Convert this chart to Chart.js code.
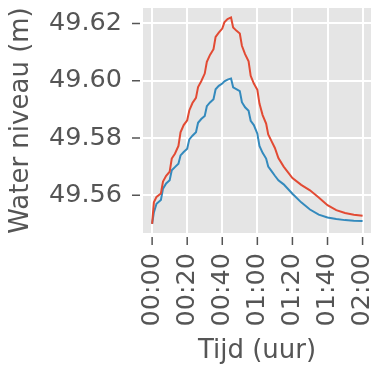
<!DOCTYPE html>
<html>
<head>
<meta charset="utf-8">
<script src="https://cdn.jsdelivr.net/npm/chart.js@4.4.0/dist/chart.umd.min.js"></script>
<style>
  html, body { margin: 0; padding: 0; background: #fff; overflow: hidden; }
  #wrap { width: 371px; height: 367px; }
</style>
</head>
<body>
<div id="wrap"><canvas id="chart" width="371" height="367"></canvas></div>
<script>
// tijd in minuten vanaf 00:00
const minutes = [0, 1, 2.5, 5, 6.2, 8, 10, 11.2, 13, 15, 16.2, 18, 20, 21.2, 23, 25, 26.2, 28, 30,
  31.2, 33, 35, 36.2, 38, 40, 41.2, 43, 45, 46.2, 48, 50, 51.2, 53, 55, 56.2, 58, 60, 61.2, 63, 65,
  66.2, 68, 70, 72, 75, 80, 85, 90, 95, 100, 105, 110, 115, 120];

const levelRed = [49.550, 49.5575, 49.5594, 49.5606, 49.5648, 49.5668, 49.5682, 49.5728, 49.5745, 49.5772,
  49.5820, 49.5845, 49.5862, 49.5896, 49.5922, 49.5940, 49.5978, 49.5998, 49.6025,
  49.6066, 49.6090, 49.6110, 49.6153, 49.6168, 49.6182, 49.6204, 49.6215, 49.6221,
  49.6186, 49.6175, 49.6165, 49.6122, 49.6093, 49.6068, 49.6017, 49.5990, 49.5968, 49.5920, 49.5880, 49.5850,
  49.5812, 49.5790, 49.5765, 49.5730, 49.5700, 49.5660, 49.5636, 49.5617, 49.5592, 49.5565, 49.5548, 49.5538, 49.5532, 49.5528];

const levelBlue = [49.550, 49.5540, 49.5570, 49.5583, 49.5623, 49.5641, 49.5652, 49.5687, 49.5698, 49.5710,
  49.5739, 49.5751, 49.5762, 49.5795, 49.5808, 49.5820, 49.5853, 49.5866, 49.5877,
  49.5911, 49.5924, 49.5935, 49.5970, 49.5982, 49.5990, 49.5998, 49.6004, 49.6008,
  49.5977, 49.5971, 49.5964, 49.5925, 49.5907, 49.5895, 49.5860, 49.5845, 49.5815, 49.5772, 49.5748, 49.5728,
  49.5700, 49.5685, 49.5668, 49.5652, 49.5638, 49.5605, 49.5575, 49.5550, 49.5532, 49.5522, 49.5517, 49.5513, 49.5511, 49.5510];

const xTicks = [0, 20, 40, 60, 80, 100, 120];
const yTicks = [49.56, 49.58, 49.60, 49.62];

const FONT = 'DejaVu Sans';
const TEXT = '#555555';

function fmtTime(m) {
  const h = Math.floor(m / 60);
  const mm = Math.round(m % 60);
  return String(h).padStart(2, '0') + ':' + String(mm).padStart(2, '0');
}

const toPoints = arr => minutes.map((t, i) => ({ x: t, y: arr[i] }));

// geen extra marge rond de assen
function noPad(s) {
  s.paddingLeft = 0; s.paddingRight = 0; s.paddingTop = 0; s.paddingBottom = 0;
}

// grijze achtergrond + korte tickstreepjes buiten het plotvlak
const ggplotBits = {
  id: 'ggplotBits',
  beforeDraw(chart) {
    const { ctx, chartArea: a } = chart;
    ctx.save();
    ctx.fillStyle = '#E5E5E5';
    ctx.fillRect(a.left, a.top, a.right - a.left, a.bottom - a.top);
    ctx.restore();
  },
  afterDraw(chart) {
    const { ctx, chartArea: a, scales } = chart;
    ctx.save();
    ctx.strokeStyle = '#555555';
    ctx.lineWidth = 1.5;
    ctx.beginPath();
    yTicks.forEach(v => {
      const y = scales.y.getPixelForValue(v);
      ctx.moveTo(a.left - 11, y);
      ctx.lineTo(a.left - 3, y);
    });
    xTicks.forEach(v => {
      const x = scales.x.getPixelForValue(v);
      ctx.moveTo(x, a.bottom + 4);
      ctx.lineTo(x, a.bottom + 12);
    });
    ctx.stroke();
    ctx.restore();
  }
};

new Chart(document.getElementById('chart'), {
  type: 'line',
  data: {
    datasets: [
      { label: 'rood', data: toPoints(levelRed), borderColor: '#E24A33', borderWidth: 2, pointRadius: 0, tension: 0 },
      { label: 'blauw', data: toPoints(levelBlue), borderColor: '#348ABD', borderWidth: 2, pointRadius: 0, tension: 0 }
    ]
  },
  options: {
    responsive: false,
    animation: false,
    layout: { padding: { left: 0, right: 0, top: 8, bottom: 0 }, autoPadding: false },
    plugins: { legend: { display: false }, tooltip: { enabled: false } },
    scales: {
      x: {
        type: 'linear',
        min: -5.2,
        max: 124.8,
        afterBuildTicks: s => { s.ticks = xTicks.map(v => ({ value: v })); },
        afterFit: s => { s.height = 134; noPad(s); },
        grid: { color: '#ffffff', lineWidth: 2, drawTicks: false },
        border: { display: false },
        ticks: {
          minRotation: 90, maxRotation: 90, padding: 20, color: TEXT,
          font: { family: FONT, size: 25.5 },
          callback: v => fmtTime(v)
        },
        title: { display: true, text: 'Tijd (uur)', color: TEXT, font: { family: FONT, size: 26 }, padding: { top: 0, bottom: 0.5 } }
      },
      y: {
        min: 49.5468,
        max: 49.6254,
        afterBuildTicks: s => { s.ticks = yTicks.map(v => ({ value: v })); },
        afterFit: s => { s.width = 143; noPad(s); },
        grid: { color: '#ffffff', lineWidth: 2, drawTicks: false },
        border: { display: false },
        ticks: {
          padding: 21, color: TEXT,
          font: { family: FONT, size: 25.5 },
          callback: v => v.toFixed(2)
        },
        title: { display: true, text: 'Water niveau (m)', color: TEXT, font: { family: FONT, size: 26 }, padding: { top: 5.5, bottom: 0 } }
      }
    }
  },
  plugins: [ggplotBits]
});
</script>
</body>
</html>
